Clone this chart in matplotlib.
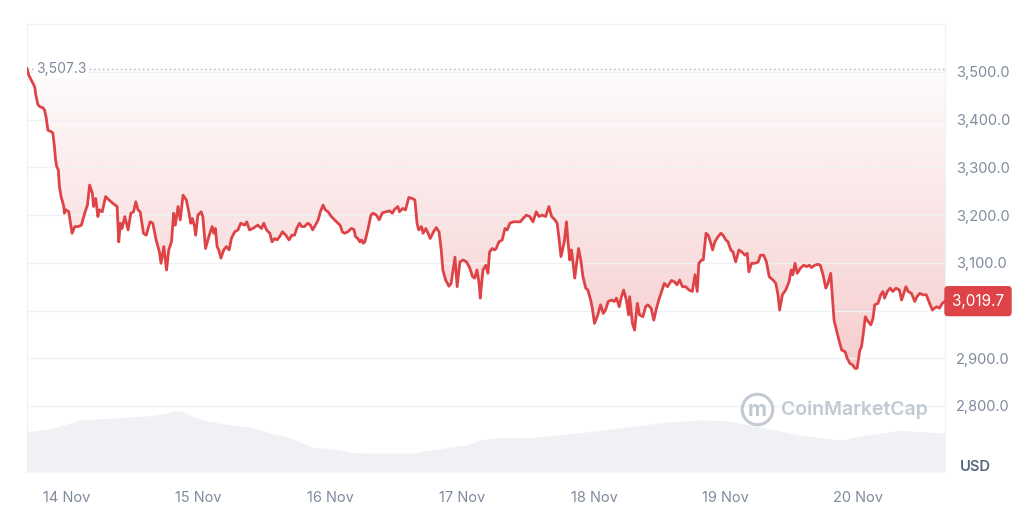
import numpy as np
import matplotlib
matplotlib.use('Agg')
import matplotlib.pyplot as plt
from matplotlib.colors import to_rgb
from matplotlib.lines import Line2D
from matplotlib.ticker import FuncFormatter

plt.rcParams['font.family'] = ['Inter', 'DejaVu Sans']

# hours since 13 Nov 00:00, price in USD
hours = [16.8, 17.1, 18.2, 18.4, 18.8, 19.2, 19.7, 20.0, 20.3, 20.6, 21.2, 21.5, 21.8, 22.0, 22.2, 22.5,
         22.7, 23.0, 23.5, 23.6, 23.9, 24.4, 25.0, 25.5, 26.1, 26.7, 27.3, 27.8, 28.2, 28.7, 28.9, 29.3,
         29.7, 30.0, 30.5, 31.1, 31.7, 32.4, 33.2, 33.5, 33.8, 34.1, 34.6, 35.2, 35.7, 36.2, 36.6, 37.0,
         37.4, 38.0, 38.5, 39.2, 39.7, 40.3, 40.9, 41.2, 41.7, 42.2, 42.6, 43.1, 43.5, 43.8, 44.3, 44.7,
         45.2, 45.8, 46.3, 46.6, 46.9, 47.3, 47.5, 47.9, 48.5, 48.8, 49.3, 49.9, 50.5, 50.8, 51.1, 51.4,
         51.7, 52.1, 52.6, 53.1, 53.6, 54.0, 54.6, 55.2, 55.7, 56.4, 56.8, 57.3, 57.9, 58.8, 59.5, 59.9,
         60.4, 61.0, 61.4, 61.9, 62.3, 62.8, 63.3, 63.9, 64.5, 65.0, 65.5, 65.9, 66.4, 66.8, 67.3, 67.9,
         68.4, 68.8, 69.3, 69.8, 70.2, 70.7, 71.1, 71.6, 72.2, 72.8, 73.4, 73.8, 74.2, 74.6, 75.2, 75.8,
         76.3, 76.6, 77.0, 77.4, 77.7, 78.0, 78.3, 78.9, 79.4, 79.8, 80.4, 80.9, 81.5, 82.2, 82.8, 83.3,
         83.7, 84.3, 84.6, 85.2, 85.7, 86.3, 86.9, 87.4, 87.8, 88.1, 88.6, 88.9, 89.4, 89.8, 90.2, 90.8,
         91.3, 91.8, 92.2, 92.5, 93.0, 93.6, 94.0, 94.7, 95.1, 95.6, 96.2, 96.8, 97.4, 97.9, 98.3, 98.7,
         99.1, 99.3, 99.8, 100.3, 100.7, 101.0, 101.5, 101.9, 102.2, 102.7, 103.3, 103.8, 104.2, 104.7,
         105.3, 106.2, 106.6, 107.1, 107.7, 108.3, 108.9, 109.5, 110.0, 110.6, 111.2, 111.8, 112.3, 112.9,
         113.3, 113.6, 114.0, 114.6, 115.0, 115.3, 115.6, 115.9, 116.2, 116.5, 117.2, 117.6, 118.0, 118.5,
         118.9, 119.4, 119.7, 120.1, 120.7, 121.2, 121.7, 122.1, 122.6, 123.2, 123.7, 124.1, 124.6, 125.0,
         125.4, 125.9, 126.3, 126.5, 127.0, 127.4, 127.9, 128.3, 128.9, 129.4, 129.8, 130.4, 130.9, 131.3,
         131.8, 132.4, 132.8, 133.4, 134.1, 134.7, 135.1, 135.6, 136.1, 136.7, 137.3, 137.9, 138.4, 138.8,
         139.1, 139.6, 139.9, 140.4, 140.8, 141.2, 141.6, 142.0, 142.6, 143.1, 143.5, 144.0, 144.4, 144.9,
         145.3, 145.8, 146.4, 146.9, 147.5, 147.9, 148.2, 148.7, 149.3, 149.9, 150.3, 150.9, 151.4, 151.9,
         152.6, 153.1, 153.5, 153.8, 154.3, 154.9, 155.5, 155.9, 156.2, 156.6, 157.0, 157.6, 158.2, 158.7,
         159.2, 159.6, 160.2, 160.8, 161.2, 161.7, 162.2, 162.6, 163.1, 163.4, 163.7, 164.2, 164.6, 165.1,
         165.7, 166.1, 166.6, 167.1, 167.5, 167.9, 168.4, 168.7, 169.0, 169.4, 169.9, 170.4, 170.8, 171.1,
         171.7, 172.2, 172.6, 172.9, 173.4, 173.9, 174.4, 175.0, 175.6, 176.0, 176.4, 176.8, 177.2, 177.8,
         178.4, 178.8, 179.3, 179.9, 180.5, 181.1, 181.6, 182.0, 182.4, 182.9, 183.4, 183.9]
price = [3507.3, 3494, 3469, 3452, 3431, 3427, 3425, 3420, 3404, 3378, 3375, 3372, 3343, 3316, 3302, 3295,
         3260, 3239, 3218, 3204, 3211, 3207, 3162, 3176, 3176, 3179, 3204, 3221, 3263, 3246, 3218, 3235,
         3197, 3211, 3207, 3239, 3232, 3225, 3218, 3144, 3183, 3172, 3197, 3169, 3204, 3207, 3228, 3211,
         3207, 3162, 3158, 3186, 3183, 3148, 3123, 3099, 3134, 3085, 3127, 3144, 3204, 3179, 3218, 3190,
         3242, 3232, 3204, 3183, 3193, 3176, 3158, 3200, 3207, 3197, 3130, 3155, 3176, 3162, 3172, 3134,
         3127, 3110, 3127, 3134, 3127, 3151, 3165, 3169, 3183, 3179, 3186, 3169, 3172, 3179, 3172, 3183,
         3169, 3162, 3144, 3151, 3148, 3155, 3165, 3158, 3148, 3158, 3158, 3172, 3183, 3176, 3176, 3183,
         3179, 3169, 3179, 3190, 3207, 3221, 3211, 3207, 3197, 3190, 3183, 3179, 3165, 3162, 3165, 3172,
         3170, 3155, 3151, 3144, 3148, 3141, 3144, 3172, 3200, 3204, 3200, 3190, 3205, 3207, 3209, 3204,
         3212, 3218, 3207, 3214, 3211, 3237, 3235, 3232, 3183, 3169, 3176, 3162, 3172, 3162, 3151, 3165,
         3174, 3165, 3127, 3085, 3064, 3051, 3057, 3112, 3050, 3102, 3106, 3102, 3089, 3071, 3068, 3085,
         3057, 3026, 3085, 3095, 3078, 3123, 3130, 3127, 3130, 3144, 3148, 3172, 3169, 3183,
         3186, 3186, 3186, 3193, 3200, 3197, 3186, 3207, 3197, 3200, 3197, 3218, 3197, 3190,
         3183, 3155, 3113, 3144, 3186, 3141, 3106, 3127, 3099, 3068, 3130, 3106, 3071, 3047,
         3043, 3022, 3005, 2973, 2991, 3012, 2994, 3001, 3019, 3022, 3019, 3026, 3008, 3029,
         3043, 3022, 2991, 3029, 2973, 2959, 3015, 2991, 2987, 3008, 3012, 3005, 2980, 3001,
         3022, 3043, 3057, 3050, 3063, 3060, 3054, 3064, 3050, 3050, 3043, 3040, 3075, 3040,
         3099, 3106, 3106, 3162, 3158, 3144, 3127, 3144, 3155, 3162, 3158, 3148, 3144, 3127,
         3123, 3102, 3127, 3123, 3116, 3120, 3081, 3099, 3099, 3102, 3116, 3116, 3102, 3071,
         3064, 3057, 3033, 3001, 3033, 3043, 3060, 3085, 3075, 3099, 3078, 3089, 3095, 3092,
         3095, 3090, 3095, 3097, 3095, 3075, 3047, 3057, 3078, 3029, 2980, 2956, 2938, 2917,
         2914, 2900, 2889, 2886, 2879, 2879, 2917, 2924, 2949, 2987, 2977, 2970, 2984, 3012,
         3015, 3033, 3040, 3026, 3040, 3047, 3040, 3047, 3043, 3022, 3036, 3050, 3040, 3036,
         3019, 3029, 3036, 3033, 3033, 3015, 3001, 3005, 3008, 3005, 3015, 3019.7]

# 24h volume (USD billions)
vol_hours = [16.7, 19.1, 21.5, 23.9, 26.4, 29.4, 32.4, 36.1, 39.7, 42.2, 44.0, 45.2, 47.0, 49.4, 51.9,
             54.9, 57.9, 61.0, 64.0, 66.4, 68.8, 71.3, 73.7, 76.1, 79.8, 83.4, 87.1, 89.5, 93.1, 96.8,
             99.2, 102.8, 108.9, 118.7, 126.0, 133.3, 139.3, 144.2, 150.2, 157.5, 164.8, 169.7, 175.7, 183.9]
vol = [19.9, 21.0, 21.9, 23.9, 26.0, 26.5, 26.9, 27.7, 28.2, 29.4, 30.7, 30.2, 27.7, 25.5, 24.4,
       23.2, 22.2, 19.4, 17.7, 15.2, 12.2, 11.9, 11.0, 9.7, 9.4, 9.4, 9.4, 10.7, 12.2, 13.5,
       16.0, 17.2, 17.3, 20.0, 22.5, 25.0, 26.0, 25.7, 22.5, 18.5, 16.0, 18.5, 20.8, 19.5]

day_ticks = [24, 48, 72, 96, 120, 144, 168]
day_labels = ['14 Nov', '15 Nov', '16 Nov', '17 Nov', '18 Nov', '19 Nov', '20 Nov']
price_ticks = [2800, 2900, 3000, 3100, 3200, 3300, 3400, 3500]
start_price = price[0]
last_price = price[-1]

red = '#de4347'
grey = '#808a9d'
grid = '#eff2f5'
logo = '#c3c9d3'

fig = plt.figure(figsize=(10.24, 5.08), dpi=100)
rect = [27 / 1024, 36 / 508, 918 / 1024, 448 / 508]
ax = fig.add_axes(rect)
axv = ax.twinx()
ax.set_zorder(axv.get_zorder() + 1)
ax.patch.set_visible(False)

# volume underneath
axv.fill_between(vol_hours, vol, 0, color='#f0f1f4', lw=0)
axv.set_ylim(0, 224)
axv.set_yticks([])
for s in axv.spines.values():
    s.set_visible(False)

# price line and gradient fill up to the opening price
x0, x1 = hours[0], hours[-1]
poly = ax.fill_between(hours, price, start_price, color='none', lw=0)
grad = np.linspace(0.27, 0.015, 256).reshape(-1, 1)
img = np.zeros((256, 1, 4))
img[:, :, :3] = to_rgb(red)
img[:, :, 3] = grad
im = ax.imshow(img, extent=[x0, x1, min(price), start_price], origin='lower',
               aspect='auto', zorder=1, interpolation='bilinear')
im.set_clip_path(poly.get_paths()[0], transform=ax.transData)
ax.plot(hours, price, color=red, lw=2.0, zorder=3, solid_joinstyle='round')

ax.hlines(start_price, x0, x1, colors='#a6b0c3', linestyles=(0, (1, 2.2)), lw=1, zorder=2)
ax.text(x0 + 1.6, start_price, f'{start_price:,.1f}', color=grey, fontsize=10, va='center', ha='left',
        zorder=4, bbox=dict(fc='white', ec='none', pad=1.5))

ax.set_xlim(x0, x1)
ax.set_ylim(2661.6, 3600.6)
ax.set_yticks(price_ticks)
ax.yaxis.tick_right()
# the 3,000.0 label sits under the last-price badge
ax.yaxis.set_major_formatter(FuncFormatter(lambda v, p: '' if v == 3000 else f'{v:,.1f}'))
ax.set_xticks(day_ticks)
ax.set_xticklabels(day_labels)
ax.tick_params(axis='y', length=0, pad=8, labelsize=10.5, colors=grey)
ax.tick_params(axis='x', length=0, pad=14, labelsize=10.5, colors=grey)
ax.grid(axis='y', color=grid, lw=1, zorder=0)
for side in ['top', 'left', 'right']:
    ax.spines[side].set_color(grid)
ax.spines['bottom'].set_visible(False)

ax.annotate(f'{last_price:,.1f}', xy=(1, last_price), xycoords=('axes fraction', 'data'),
            xytext=(5, 0), textcoords='offset points', ha='left', va='center', color='white',
            fontsize=11, zorder=6, annotation_clip=False,
            bbox=dict(boxstyle='round,pad=0.5,rounding_size=0.25', fc=red, ec='none'))

fig.text(975 / 1024, 1 - 467 / 508, 'USD', color='#58667e', fontsize=10.5, fontweight='semibold',
         ha='center', va='center')

# watermark: circled logo + name
fig.add_artist(Line2D([757 / 1024], [1 - 409 / 508], marker='o', markersize=22, mfc='none',
                      mec=logo, mew=2.2, transform=fig.transFigure))
fig.text(757 / 1024, 1 - 410 / 508, 'm', color=logo, fontsize=15, fontweight='bold',
         ha='center', va='center')
fig.text(781 / 1024, 1 - 410 / 508, 'CoinMarketCap', color=logo, fontsize=14, fontweight='semibold',
         ha='left', va='center')

fig.savefig('out.png', dpi=100)
